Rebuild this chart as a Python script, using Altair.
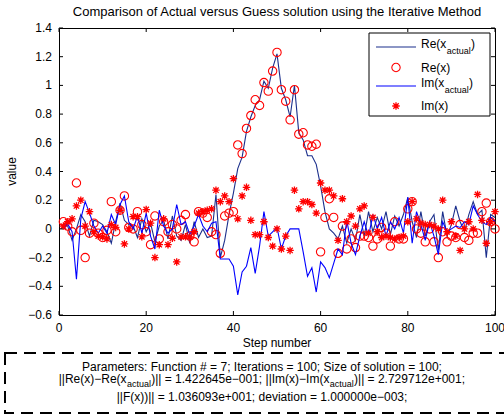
import altair as alt
import pandas as pd

FONT = "Liberation Sans"
W, H = 436, 287

# ---------------- data ----------------
steps = list(range(1, 101))
re_actual = [0.03, 0.02, -0.08, 0.00, 0.10, 0.05, -0.05, 0.06, 0.05, 0.03,
             -0.02, -0.10, 0.05, 0.18, 0.06, 0.03, 0.02, -0.06, 0.07, -0.02,
             0.04, -0.09, 0.02, 0.06, -0.07, 0.09, -0.05, -0.08, 0.03, -0.10,
             0.05, -0.06, 0.00, -0.06, -0.05, 0.24, -0.20, -0.08, 0.10, 0.25,
             0.42, 0.50, 0.68, 0.78, 0.86, 0.90, 1.03, 0.98, 1.12, 1.22,
             0.98, 0.90, 0.78, 1.00, 0.67, 0.62, 0.51, 0.51, 0.45, 0.30,
             0.12, 0.00, -0.03, -0.07, 0.02, -0.10, 0.00, -0.08, 0.10, -0.05,
             0.12, -0.02, 0.08, 0.00, 0.12, -0.04, 0.09, 0.02, 0.10, 0.22,
             0.05, -0.06, 0.12, -0.05, 0.05, 0.10, -0.15, 0.12, -0.05, 0.03,
             0.16, 0.05, -0.02, 0.10, 0.19, 0.10, 0.13, -0.20, 0.10, 0.08]
re_guess = [0.05, 0.02, -0.02, 0.32, -0.01, -0.20, -0.03, 0.04, -0.03, -0.06,
            -0.01, 0.19, -0.02, 0.13, 0.23, 0.01, 0.00, 0.12, 0.03, -0.02,
            -0.11, 0.09, -0.07, 0.05, -0.02, 0.03, 0.00, 0.06, 0.10, -0.05,
            -0.09, 0.12, 0.11, 0.08, -0.02, -0.04, -0.17, 0.09, 0.11, 0.12,
            0.585, 0.525, 0.70, 0.79, 0.90, 0.86, 1.02, 0.96, 1.10, 1.23,
            0.97, 0.89, 0.76, 0.97, 0.66, 0.67, 0.585, 0.576, 0.59, -0.16,
            0.08, 0.21, 0.08, -0.17, 0.02, -0.14, -0.07, -0.13, -0.05, -0.05,
            -0.06, -0.12, -0.07, 0.01, -0.03, -0.12, 0.05, -0.07, -0.07, 0.14,
            0.19, 0.00, -0.03, -0.09, 0.00, -0.09, -0.20, -0.02, -0.09, -0.05,
            -0.06, 0.03, -0.06, -0.08, -0.03, -0.03, 0.12, 0.18, 0.05, 0.00]
im_actual = [0.00, 0.035, -0.02, -0.35, 0.07, 0.19, 0.11, 0.02, -0.03, 0.02,
             -0.03, 0.10, 0.03, 0.17, 0.23, 0.05, 0.00, 0.09, -0.03, 0.11,
             -0.05, -0.14, 0.13, 0.02, -0.03, 0.00, 0.17, 0.03, 0.05, -0.04,
             0.02, 0.10, 0.02, -0.02, 0.04, 0.05, -0.21, -0.21, -0.21, -0.26,
             -0.46, -0.30, -0.26, -0.13, -0.31, -0.12, 0.12, -0.05, -0.02, 0.01,
             -0.14, -0.05, 0.00, 0.00, 0.00, -0.16, -0.33, -0.27, -0.44, -0.23,
             -0.27, -0.34, -0.24, -0.14, -0.18, 0.06, -0.10, -0.18, -0.05, 0.05,
             -0.05, 0.10, 0.00, 0.08, -0.05, 0.05, 0.00, 0.08, -0.03, 0.22,
             -0.10, 0.12, 0.03, -0.08, 0.05, -0.05, -0.18, 0.05, -0.02, 0.00,
             0.02, 0.01, 0.05, 0.03, 0.16, 0.10, 0.05, 0.03, 0.08, 0.05]
im_guess = [0.02, 0.05, 0.07, 0.16, 0.20, 0.02, 0.12, -0.02, -0.05, -0.055,
            -0.07, 0.03, 0.01, 0.13, -0.105, 0.00, 0.085, 0.085, -0.055, 0.135,
            0.04, -0.20, -0.11, 0.07, -0.11, -0.065, -0.23, -0.055, -0.055, -0.055,
            -0.02, 0.11, 0.12, 0.13, 0.14, 0.27, 0.19, 0.23, 0.19, 0.35,
            0.07, 0.23, 0.29, 0.06, -0.04, -0.04, 0.05, -0.06, -0.12, 0.00,
            -0.14, -0.05, -0.15, 0.27, 0.14, 0.19, 0.19, 0.17, 0.11, 0.32,
            0.27, 0.27, 0.23, -0.08, 0.21, 0.05, 0.09, 0.02, 0.14, 0.16,
            -0.03, 0.08, -0.02, -0.06, -0.05, -0.06, -0.07, -0.06, -0.05, 0.05,
            0.19, 0.07, 0.04, 0.03, 0.03, 0.02, 0.00, 0.20, -0.02, 0.05,
            -0.05, -0.15, 0.00, 0.05, 0.00, 0.24, 0.06, -0.10, 0.05, 0.12]

x_ticks = [0, 20, 40, 60, 80, 100]
x_tick_labels = ["0", "20", "40", "60", "80", "100"]
y_ticks = [-0.6, -0.4, -0.2, 0, 0.2, 0.4, 0.6, 0.8, 1.0, 1.2, 1.4]
y_tick_labels = ["\u22120.6", "\u22120.4", "\u22120.2", "0", "0.2", "0.4", "0.6", "0.8",
                 "1", "1.2", "1.4"]

title_text = "Comparison of Actual versus Guess solution using the Iterative Method"
x_title = "Step number"
y_title = "value"
param_line1 = "Parameters: Function # = 7; Iterations = 100; Size of solution = 100;"
param_line2 = [("||Re(x)\u2212Re(x", False), ("actual", True),
               (")|| = 1.422645e\u2212001; ||Im(x)\u2212Im(x", False), ("actual", True),
               (")|| = 2.729712e+001;", False)]
param_line3 = "||F(x))|| = 1.036093e+001; deviation = 1.000000e\u2212003;"
legend_rows = [[("Re(x", False), ("actual", True), (")", False)],
               [("Re(x)", False)],
               [("Im(x", False), ("actual", True), (")", False)],
               [("Im(x)", False)]]

# ---------------- styles ----------------
RE_COLOR = "#1b2f8c"
IM_COLOR = "#0000ff"
RED = "#ff0000"
STAR = "M-1,0L1,0M0,-1L0,1M-0.72,-0.72L0.72,0.72M-0.72,0.72L0.72,-0.72"
FS, FS_SUB, FS_TITLE = 12, 9, 13

# Arial / Liberation Sans advance widths (1/1000 em) for text layout
AW = {' ': 278, '#': 556, '(': 333, ')': 333, '+': 584, '.': 278, ':': 278, ';': 278,
      '=': 584, '|': 260, '\u2212': 584, 'F': 611, 'I': 278, 'P': 667, 'R': 722,
      'S': 667, 'a': 556, 'c': 500, 'd': 556, 'e': 556, 'f': 278, 'i': 222, 'l': 222,
      'm': 833, 'n': 556, 'o': 556, 'r': 333, 's': 500, 't': 278, 'u': 556, 'v': 500,
      'x': 500, 'z': 500}


def tw(s, fs):
    return sum(AW.get(ch, 556) for ch in s) * fs / 1000.0


def place(parts, x0, y_main, y_sub):
    rows, x = [], x0
    for t, sub in parts:
        fs = FS_SUB if sub else FS
        rows.append((t, x, y_sub if sub else y_main, fs, "left"))
        x += tw(t, fs) + 0.3
    return rows


def total_w(parts):
    return sum(tw(t, FS_SUB if sub else FS) + 0.3 for t, sub in parts)


one = pd.DataFrame({"k": [0]})


def text_layer(t, px, py, fs, align, angle=0):
    return alt.Chart(one).mark_text(
        text=t, align=align, baseline="middle", font=FONT, fontSize=fs, color="black",
        angle=angle
    ).encode(x=alt.value(px), y=alt.value(py))


df = pd.DataFrame({"step": steps, "re_act": re_actual, "re_x": re_guess,
                   "im_act": im_actual, "im_x": im_guess})

xs = alt.Scale(domain=[0, 100], nice=False, zero=False)
ys = alt.Scale(domain=[-0.6, 1.4], nice=False, zero=False)

base = alt.Chart(df)
re_line = base.mark_line(color=RE_COLOR, strokeWidth=1.1).encode(
    x=alt.X("step:Q", scale=xs, axis=None), y=alt.Y("re_act:Q", scale=ys, axis=None))
re_pts = base.mark_point(shape="circle", filled=False, color=RED, size=70, strokeWidth=1.1,
                         opacity=1).encode(
    x=alt.X("step:Q", scale=xs, axis=None), y=alt.Y("re_x:Q", scale=ys, axis=None))
im_line = base.mark_line(color=IM_COLOR, strokeWidth=1.1).encode(
    x=alt.X("step:Q", scale=xs, axis=None), y=alt.Y("im_act:Q", scale=ys, axis=None))
im_pts = base.mark_point(shape=STAR, filled=False, color=RED, size=56, strokeWidth=1.3,
                         opacity=1).encode(
    x=alt.X("step:Q", scale=xs, axis=None), y=alt.Y("im_x:Q", scale=ys, axis=None))

# inward tick marks and tick labels (MATLAB style box)
xt = pd.DataFrame({"v": x_ticks, "lab": x_tick_labels})
yt = pd.DataFrame({"v": y_ticks, "lab": y_tick_labels})
TL = 4
tick_b = alt.Chart(xt).mark_rule(color="black", strokeWidth=1).encode(
    x=alt.X("v:Q", scale=xs, axis=None), y=alt.value(H), y2=alt.value(H - TL))
tick_t = alt.Chart(xt).mark_rule(color="black", strokeWidth=1).encode(
    x=alt.X("v:Q", scale=xs, axis=None), y=alt.value(0), y2=alt.value(TL))
tick_l = alt.Chart(yt).mark_rule(color="black", strokeWidth=1).encode(
    y=alt.Y("v:Q", scale=ys, axis=None), x=alt.value(0), x2=alt.value(TL))
tick_r = alt.Chart(yt).mark_rule(color="black", strokeWidth=1).encode(
    y=alt.Y("v:Q", scale=ys, axis=None), x=alt.value(W), x2=alt.value(W - TL))
lab_x = alt.Chart(xt).mark_text(align="center", baseline="middle", font=FONT, fontSize=FS,
                                color="black").encode(
    x=alt.X("v:Q", scale=xs, axis=None), y=alt.value(H + 13), text="lab:N")
lab_y = alt.Chart(yt).mark_text(align="right", baseline="middle", font=FONT, fontSize=FS,
                                color="black").encode(
    y=alt.Y("v:Q", scale=ys, axis=None), x=alt.value(-7), text="lab:N")

# legend
LX0, LX1, LY0, LY1 = 310, 431, 5, 88
row_y = [19, 39.5, 58, 78]
SX0, SX1, MX, TX = 317, 357, 337, 362
leg_box = alt.Chart(one).mark_rect(fill="white", stroke="black", strokeWidth=1).encode(
    x=alt.value(LX0), x2=alt.value(LX1), y=alt.value(LY0), y2=alt.value(LY1))
leg_re = alt.Chart(one).mark_rule(color=RE_COLOR, strokeWidth=1.1).encode(
    x=alt.value(SX0), x2=alt.value(SX1), y=alt.value(row_y[0]))
leg_im = alt.Chart(one).mark_rule(color=IM_COLOR, strokeWidth=1.1).encode(
    x=alt.value(SX0), x2=alt.value(SX1), y=alt.value(row_y[2]))
leg_c = alt.Chart(one).mark_point(shape="circle", filled=False, color=RED, size=70,
                                  strokeWidth=1.1, opacity=1).encode(
    x=alt.value(MX), y=alt.value(row_y[1]))
leg_s = alt.Chart(one).mark_point(shape=STAR, filled=False, color=RED, size=56,
                                  strokeWidth=1.3, opacity=1).encode(
    x=alt.value(MX), y=alt.value(row_y[3]))

text_specs = []
for parts, ry in zip(legend_rows, row_y):
    if len(parts) > 1:
        text_specs += place(parts, TX, ry - 3.5, ry + 3.5)
    else:
        text_specs += place(parts, TX, ry, ry)

# parameter box text
CX = 203
text_specs += place(param_line2, CX - total_w(param_line2) / 2, 351, 356)
text_specs += [(title_text, W / 2, -16, FS_TITLE, "center"),
               (param_line1, CX, 338.5, FS, "center"),
               (param_line3, CX, 369, FS, "center"),
               (x_title, W / 2, H + 28, FS, "center")]
text_layers = [text_layer(*s) for s in text_specs]
text_layers.append(text_layer(y_title, -47, H / 2, FS, "center", 270))

param_box = alt.Chart(one).mark_rect(fillOpacity=0, stroke="black", strokeWidth=2,
                                     strokeDash=[12, 7]).encode(
    x=alt.value(-54), x2=alt.value(462), y=alt.value(325), y2=alt.value(385))

chart = alt.layer(
    re_line, re_pts, im_line, im_pts,
    tick_b, tick_t, tick_l, tick_r, lab_x, lab_y,
    leg_box, leg_re, leg_c, leg_im, leg_s,
    param_box, *text_layers,
).properties(
    width=W, height=H,
    autosize=alt.AutoSizeParams(type="none"),
    padding={"left": 59, "top": 28, "right": 9, "bottom": 100},
    background="white",
).configure_view(stroke="black", strokeWidth=1)

chart.save("out.html", embed_options={"renderer": "svg", "actions": False})
